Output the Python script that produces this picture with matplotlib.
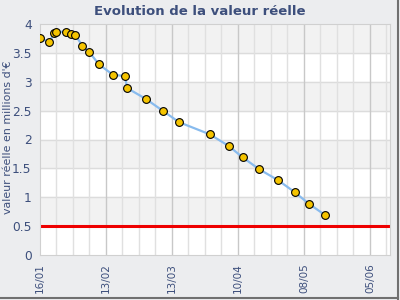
import numpy as np
import matplotlib.pyplot as plt
import matplotlib.dates as mdates
import datetime as dt

# jours depuis le 16/01
jours = [0, 4, 6, 7, 11, 13, 15, 18, 21, 25, 31, 36, 37, 45, 52, 59,
         72, 80, 86, 93, 101, 108, 114, 121]
valeurs = [3.75, 3.69, 3.84, 3.86, 3.87, 3.83, 3.81, 3.62, 3.51, 3.30,
           3.12, 3.10, 2.89, 2.70, 2.50, 2.30, 2.09, 1.89, 1.69, 1.485,
           1.295, 1.09, 0.89, 0.69]
seuil = 0.5
debut = dt.datetime(2009, 1, 16)
dates = [debut + dt.timedelta(days=j) for j in jours]

bleu = '#3d4f7c'
fig = plt.figure(figsize=(4, 3), dpi=100, facecolor='#ecedef')
ax = fig.add_axes([40 / 400, 45 / 300, 350 / 400, 231 / 300])
ax.set_facecolor('white')

x0 = mdates.date2num(debut)
ax.set_xlim(x0, x0 + 148.5)
ax.set_ylim(0, 4)

# bandes horizontales
for k in range(8):
    if k % 2 == 1:
        ax.axhspan(k * 0.5, (k + 1) * 0.5, color='#f2f2f2', zorder=0)
for k in range(1, 8):
    ax.axhline(k * 0.5, color='#dcdcdc', lw=1, zorder=1)
for d in range(7, 149, 7):
    c = '#c8c8c8' if d % 28 == 0 else '#e0e0e0'
    ax.axvline(x0 + d, color=c, lw=1, zorder=1)

ax.axhline(seuil, color='#ee0000', lw=2.2, zorder=2)
ax.plot(dates, valeurs, color='#88bbee', lw=1.6, zorder=3)
ax.plot(dates, valeurs, 'o', ms=5.6, mfc='#f5c400', mec='black', mew=0.8, zorder=4)

ticks = [x0 + 28 * i for i in range(6)]
ax.set_xticks(ticks)
ax.xaxis.set_major_formatter(mdates.DateFormatter('%d/%m'))
ax.set_yticks(np.arange(0, 4.01, 0.5))
ax.set_yticklabels(['0', '0.5', '1', '1.5', '2', '2.5', '3', '3.5', '4'])
ax.tick_params(axis='x', rotation=90, labelsize=7.5, colors=bleu, length=0, pad=6)
ax.tick_params(axis='y', labelsize=8.8, colors=bleu, length=0, pad=6)
for s in ax.spines.values():
    s.set_color('#d0d0d0')

fig.text(8 / 400, 0.542, "valeur réelle en millions d'€", rotation=90,
         ha='center', va='center', color=bleu, fontsize=7.9)
fig.text(0.5, 0.962, 'Evolution de la valeur réelle', ha='center', va='center',
         color=bleu, fontsize=9.5, fontweight='bold')

# cadre
fig.add_artist(plt.Line2D([0.995, 0.995], [0.005, 1], color='#707070', lw=1.5))
fig.add_artist(plt.Line2D([0, 0.995], [0.007, 0.007], color='#707070', lw=1.5))

fig.savefig('out.png', dpi=100, facecolor=fig.get_facecolor())
